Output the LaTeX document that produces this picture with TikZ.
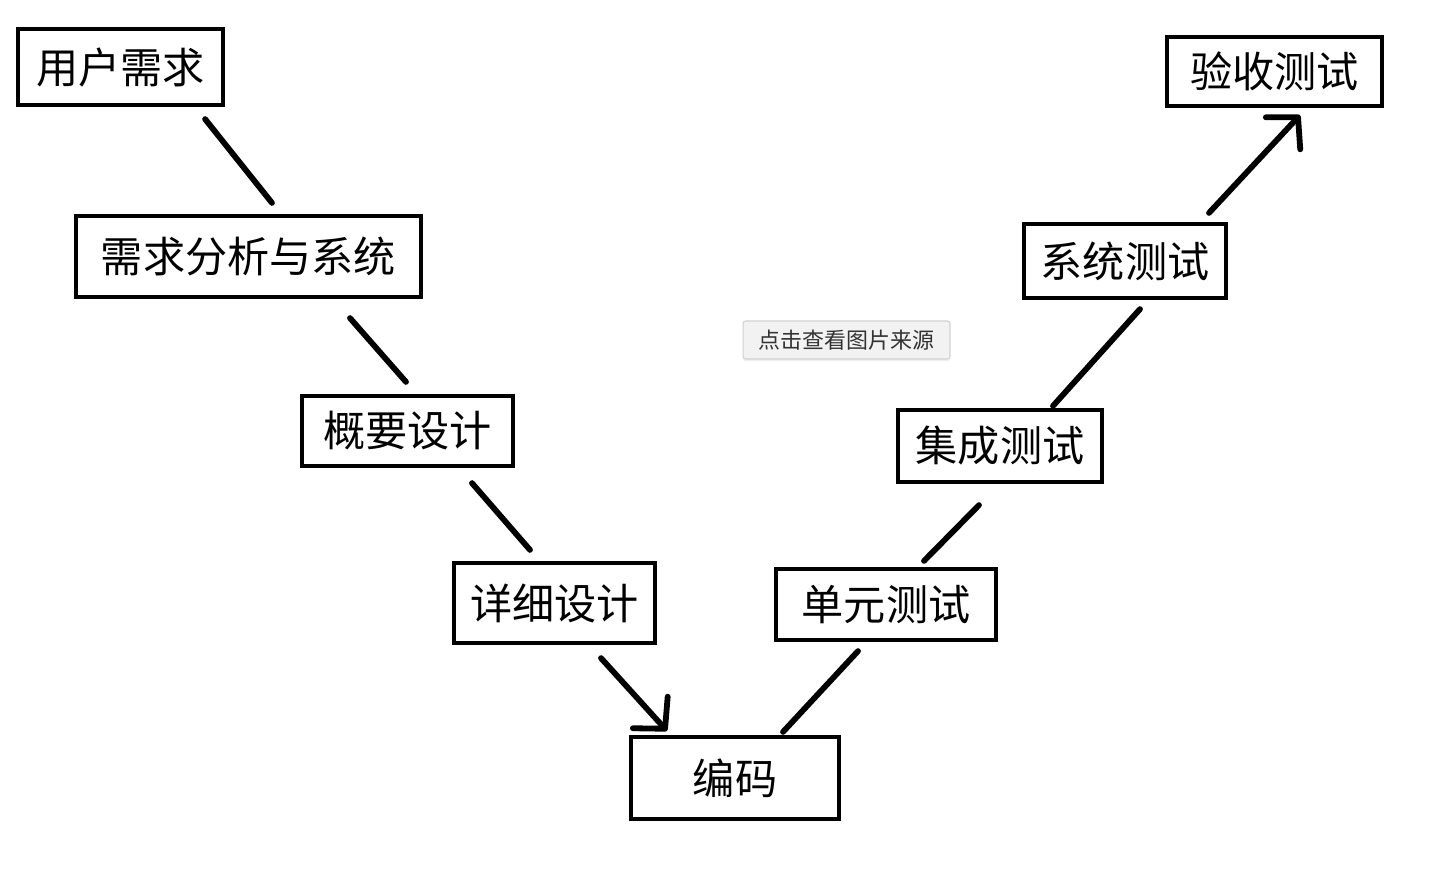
\documentclass[tikz,border=0pt]{standalone}
\usepackage{fontspec}
\newfontfamily\cjk{Noto Sans CJK SC}
\usetikzlibrary{arrows.meta,calc,shadows}

\tikzset{
  stage/.style={draw,line width=2.4pt,inner sep=0pt,font=\cjk\fontsize{24}{28}\selectfont},
  link/.style={line width=3.3pt,line cap=round},
  srcbtn/.style={draw=black!18,fill=black!5,rounded corners=1.5pt,line width=0.6pt,
    minimum width=4.14cm,minimum height=0.76cm,text=black!80,
    font=\cjk\fontsize{12.5}{14}\selectfont,
    drop shadow={opacity=0.12,shadow xshift=0pt,shadow yshift=-1.2pt}}
}

\begin{document}
\begin{tikzpicture}[x=0.02cm,y=-0.02cm,
    >={Straight Barb[length=4.4mm,width=9.4mm,line cap=round,line join=round]}]
  \useasboundingbox[fill=white] (0,0) rectangle (1430,892);

  % left leg
  \node[stage,minimum width=4.1cm,minimum height=1.52cm] (ureq) at (120.5,67) {用户需求};
  \node[stage,minimum width=6.9cm,minimum height=1.62cm] (sysana) at (248.5,256.5) {需求分析与系统};
  \node[stage,minimum width=4.22cm,minimum height=1.4cm] (outline) at (407.5,431) {概要设计};
  \node[stage,minimum width=4.02cm,minimum height=1.6cm] (detail) at (554.5,603) {详细设计};
  \node[stage,minimum width=4.16cm,minimum height=1.64cm] (coding) at (735,778) {编码};
  % right leg
  \node[stage,minimum width=4.4cm,minimum height=1.42cm] (unit) at (886,604.5) {单元测试};
  \node[stage,minimum width=4.08cm,minimum height=1.44cm] (integ) at (1000,446) {集成测试};
  \node[stage,minimum width=4.04cm,minimum height=1.48cm] (systest) at (1125,261) {系统测试};
  \node[stage,minimum width=4.3cm,minimum height=1.38cm] (accept) at (1274.5,71.5) {验收测试};

  \node[srcbtn] (source) at (846.5,340) {点击查看图片来源};

  \draw[link] ($(ureq.south east)+(-20,12)$) -- ($(sysana.north)+(23.5,-11)$);
  \draw[link] ($(sysana.south)+(101.5,19)$) -- ($(outline.north)+(-1.5,-12)$);
  \draw[link] ($(outline.south)+(64.5,15)$) -- ($(detail.north)+(-24.5,-11)$);
  \draw[link,->] ($(detail.south)+(46.5,13)$) -- ($(coding.north)+(-68,-4)$);
  \draw[link] ($(coding.north)+(48,-3)$) -- ($(unit.south)+(-28,9)$);
  \draw[link] ($(unit.north)+(38,-6)$) -- ($(integ.south)+(-21,21)$);
  \draw[link] ($(integ.north)+(53,-2)$) -- ($(systest.south)+(15,9)$);
  \draw[link,->] ($(systest.north)+(84,-9)$) -- ($(accept.south)+(25.5,7)$);
\end{tikzpicture}
\end{document}
